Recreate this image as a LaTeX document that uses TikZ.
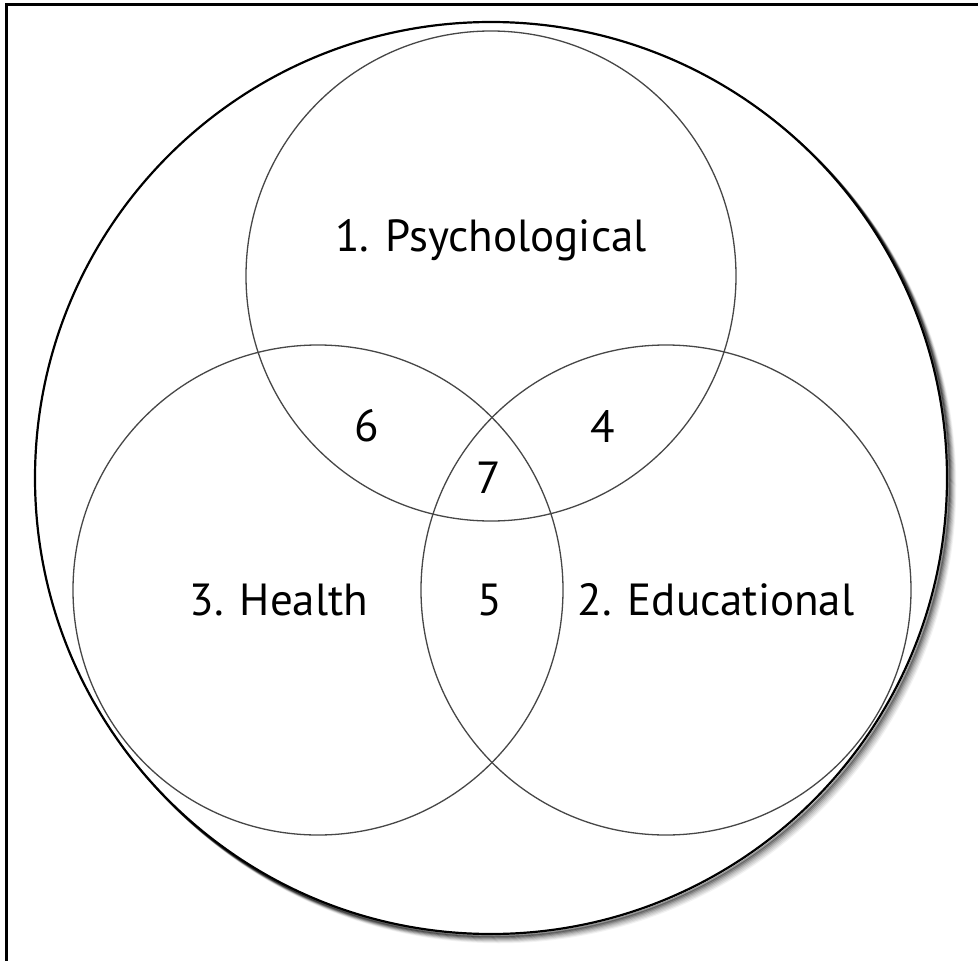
\documentclass[tikz,border=0pt]{standalone}
\usepackage{fontspec}
\setmainfont{PT Sans}
\begin{document}
\begin{tikzpicture}[x=1pt,y=-1pt,
  ring/.style={circle, draw=black!72, line width=1.3pt, minimum size=490pt, inner sep=0pt},
  outerring/.style={circle, draw=black, fill=white, line width=2.2pt, minimum size=912pt, inner sep=0pt},
  lbl/.style={font=\fontsize{45}{50}\selectfont, text=black, inner sep=0pt}]
\useasboundingbox (0,0) rectangle (978,961);
\fill[white] (0,0) rectangle (978,961);
% frame (top and left edges)
\draw[line width=3pt] (6,961) -- (6,4) -- (978,4);
% soft shadow of the outer circle
\foreach \d/\o in {8/0.05,7/0.08,6/0.12,5/0.17,4/0.24,3/0.32,2/0.4}{
  \draw[line width=2.5pt, black, opacity=\o] (491+\d,478+\d) circle (456);
}
\node[outerring] (outer) at (491,478) {};
% three sets
\node[ring] (psy) at (491,276) {};
\node[ring] (hea) at (318,590) {};
\node[ring] (edu) at (666,590) {};
% labels
\node[lbl] (lpsy) at (491,240) {1. Psychological};
\node[lbl] (lhea) at (279,600) {3. Health};
\node[lbl] (ledu) at (716,600) {2. Educational};
\node[lbl] (l6) at (367,426) {6};
\node[lbl] (l4) at (603,426) {4};
\node[lbl] (l7) at (489,478) {7};
\node[lbl] (l5) at (490,600) {5};
\end{tikzpicture}
\end{document}
